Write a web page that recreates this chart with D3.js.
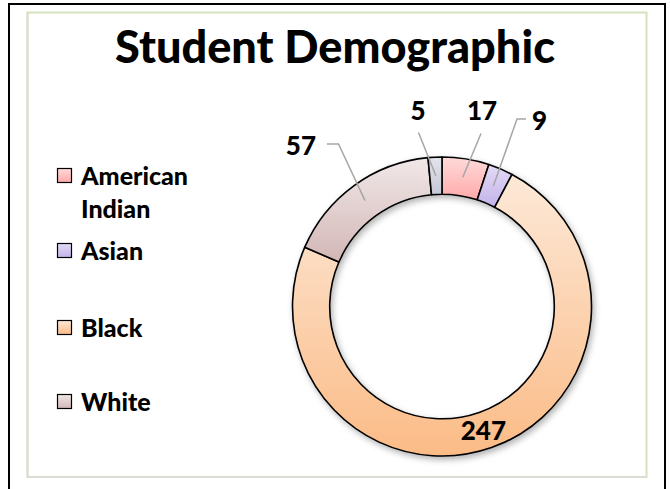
<!DOCTYPE html>
<html>
<head>
<meta charset="utf-8">
<script src="https://cdn.jsdelivr.net/npm/d3@7"></script>
<style>
  html, body { margin: 0; padding: 0; background: #fff; }
  svg { display: block; }
  text { font-family: Lato, "Open Sans", sans-serif; font-weight: 900; fill: #000; }
</style>
</head>
<body>
<svg id="chart" width="670" height="489"></svg>
<script>
// ---- Data ----
const title = "Student Demographic";
const categories = ["American Indian", "Asian", "Black", "White", "Other"];
const values = [17, 9, 247, 57, 5];
const legendCategories = ["American Indian", "Asian", "Black", "White"];
const legendLines = [["American", "Indian"], ["Asian"], ["Black"], ["White"]];
const colorsTop = ["#ffdada", "#e3dbf6", "#fde9d8", "#f1e8e8", "#e4e4ec"];
const colorsBottom = ["#ffa9a9", "#c3b2ea", "#fbbb86", "#d3b6b6", "#c6c6d6"];

// ---- Layout ----
const W = 670, H = 489;
const cx = 442, cy = 306.5, rOuter = 149.5, rInner = 112.3;

const svg = d3.select("#chart");
const defs = svg.append("defs");

categories.forEach((c, i) => {
  const g = defs.append("linearGradient").attr("id", "grad" + i)
    .attr("x1", 0).attr("y1", 0).attr("x2", 0).attr("y2", 1);
  g.append("stop").attr("offset", "0%").attr("stop-color", colorsTop[i]);
  g.append("stop").attr("offset", "100%").attr("stop-color", colorsBottom[i]);
});
const shadow = defs.append("filter").attr("id", "shadow")
  .attr("x", "-20%").attr("y", "-20%").attr("width", "140%").attr("height", "140%");
shadow.append("feDropShadow").attr("dx", 2).attr("dy", 3).attr("stdDeviation", 3)
  .attr("flood-color", "#000").attr("flood-opacity", 0.3);

// outer frame
svg.append("rect").attr("x", 9).attr("y", 4).attr("width", 656).attr("height", 500)
  .attr("fill", "#fff").attr("stroke", "#000").attr("stroke-width", 2);
// inner frame
svg.append("rect").attr("x", 27.5).attr("y", 12.5).attr("width", 619).attr("height", 464.5)
  .attr("fill", "#fff").attr("stroke", "#d6e2bd").attr("stroke-width", 2);
svg.append("path").attr("d", `M27.5,12.5 V477 H646.5`)
  .attr("fill", "none").attr("stroke", "#dcdcd4").attr("stroke-width", 2);

// title (fit to target width)
const titleText = svg.append("text").attr("x", 335).attr("y", 63)
  .attr("text-anchor", "middle").style("font-size", "40px").text(title);
const tw = titleText.node().getComputedTextLength();
titleText.style("font-size", (40 * 440 / tw) + "px");

// donut
const pie = d3.pie().sort(null).value(d => d)
  .startAngle(0).endAngle(2 * Math.PI);
const arcs = pie(values);
const arc = d3.arc().innerRadius(rInner).outerRadius(rOuter);
const g = svg.append("g").attr("transform", `translate(${cx},${cy})`);
g.append("g").attr("filter", "url(#shadow)")
  .selectAll("path").data(arcs).join("path")
  .attr("d", arc)
  .attr("fill", (d, i) => `url(#grad${i})`)
  .attr("stroke", "#000").attr("stroke-width", 1.6).attr("stroke-linejoin", "round");

// labels: outside offsets (relative to center) with leader lines
const labelLayout = [
  { i: 0, tx: 40, ty: -186.5, anchor: "middle", line: [[39, -173]] },
  { i: 1, tx: 90, ty: -176.5, anchor: "start", line: [[75, -187.5], [84, -187.5]] },
  { i: 4, tx: -24, ty: -186.5, anchor: "middle", line: [[-23.5, -174]] },
  { i: 3, tx: -126, ty: -151.5, anchor: "end", line: [[-103.5, -162.5], [-115, -162.5]] }
];
labelLayout.forEach(L => {
  const c = arc.centroid(arcs[L.i]);
  const seq = [c].concat(L.line);
  g.append("path")
    .attr("d", d3.line()(seq))
    .attr("fill", "none").attr("stroke", "#a6a6a6").attr("stroke-width", 1.5);
  g.append("text").attr("x", L.tx).attr("y", L.ty)
    .attr("text-anchor", L.anchor).style("font-size", "26px")
    .text(values[L.i]);
});
const cBig = arc.centroid(arcs[2]);
g.append("text").attr("x", cBig[0] - 2).attr("y", cBig[1] + 10)
  .attr("text-anchor", "middle").style("font-size", "26px").text(values[2]);

// legend
const legendY = [168, 243, 320, 394];
const leg = svg.append("g");
legendCategories.forEach((c, i) => {
  const idx = categories.indexOf(c);
  leg.append("rect").attr("x", 57.5).attr("y", legendY[i] + 0.5).attr("width", 14).attr("height", 14)
    .attr("fill", `url(#grad${idx})`).attr("stroke", "#000").attr("stroke-width", 1.2);
  const t = leg.append("text").attr("x", 81).attr("y", legendY[i] + 16.5).style("font-size", "25px");
  legendLines[i].forEach((ln, k) => {
    t.append("tspan").attr("x", 81).attr("dy", k === 0 ? 0 : 33).text(ln);
  });
});
</script>
</body>
</html>
